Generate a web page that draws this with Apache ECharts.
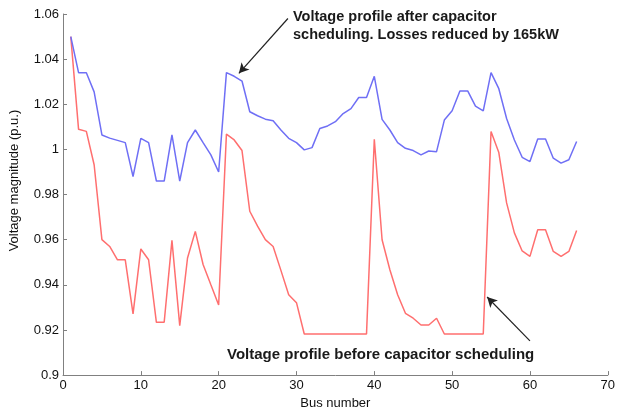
<!DOCTYPE html>
<html>
<head>
<meta charset="utf-8">
<script src="https://cdn.jsdelivr.net/npm/echarts@6/dist/echarts.min.js"></script>
<style>
  html, body { margin: 0; padding: 0; background: #fff; }
  #main { width: 618px; height: 415px; }
</style>
</head>
<body>
<div id="main"></div>
<script>
// bus numbers 1..66
const buses = [];
for (let i = 1; i <= 66; i++) buses.push(i);

// voltage after capacitor scheduling (blue)
const afterV = [
  1.050, 1.034, 1.034, 1.0255, 1.0064, 1.005, 1.004, 1.003, 0.988, 1.0049,
  1.003, 0.986, 0.986, 1.0064, 0.986, 1.003, 1.0086, 1.003, 0.9976, 0.990,
  1.034, 1.0324, 1.0303, 1.0167, 1.0149, 1.0134, 1.0127, 1.0086, 1.0049, 1.003,
  0.9998, 1.0008, 1.0093, 1.0104, 1.0123, 1.0159, 1.0181, 1.023, 1.023, 1.0324,
  1.0133, 1.0086, 1.003, 1.0005, 0.9995, 0.9976, 0.9993, 0.999, 1.013, 1.0171,
  1.0259, 1.0259, 1.0192, 1.0171, 1.034, 1.0269, 1.0137, 1.0042, 0.9965, 0.9946,
  1.0046, 1.0046, 0.9961, 0.9939, 0.9954, 1.0035
];

// voltage before capacitor scheduling (red)
const beforeV = [
  1.050, 1.0089, 1.008, 0.9932, 0.960, 0.957, 0.9511, 0.9511, 0.9271, 0.9559,
  0.9511, 0.9234, 0.9234, 0.9597, 0.9219, 0.9519, 0.9637, 0.949, 0.940, 0.9311,
  1.0068, 1.0042, 0.9995, 0.9726, 0.966, 0.960, 0.957, 0.9464, 0.9356, 0.9321,
  0.9182, 0.9182, 0.9182, 0.9182, 0.9182, 0.9182, 0.9182, 0.9182, 0.9182, 1.0045,
  0.960, 0.9467, 0.9356, 0.9274, 0.9252, 0.9222, 0.9222, 0.9252, 0.9182, 0.9182,
  0.9182, 0.9182, 0.9182, 0.9182, 1.0079, 0.9986, 0.9763, 0.963, 0.955, 0.9526,
  0.9644, 0.9644, 0.9548, 0.9526, 0.9548, 0.9641
];

const yTicks = [0.9, 0.92, 0.94, 0.96, 0.98, 1, 1.02, 1.04, 1.06];

const font = 'Liberation Sans, Arial, sans-serif';
const axisCol = '#808080';

var myChart = echarts.init(document.getElementById('main'));

myChart.setOption({
  animation: false,
  grid: { left: 58, right: 6, top: 14, bottom: 39, containLabel: false },
  xAxis: {
    type: 'value',
    min: 0, max: 70, interval: 10,
    name: 'Bus number',
    nameLocation: 'middle',
    nameGap: 20,
    nameTextStyle: { fontFamily: font, fontSize: 13, color: '#111' },
    axisLine: { show: true, lineStyle: { color: axisCol } },
    axisTick: { show: true, inside: true, length: 4, lineStyle: { color: axisCol } },
    axisLabel: { fontFamily: font, fontSize: 13, color: '#111', margin: 4 },
    splitLine: { show: false }
  },
  yAxis: {
    type: 'value',
    min: 0.9, max: 1.06, interval: 0.02,
    name: 'Voltage magnitude (p.u.)',
    nameLocation: 'middle',
    nameGap: 42,
    nameTextStyle: { fontFamily: font, fontSize: 13, color: '#111', padding: [0, 0, 0, 28] },
    axisLine: { show: true, lineStyle: { color: axisCol } },
    axisTick: { show: true, inside: true, length: 4, lineStyle: { color: axisCol } },
    axisLabel: {
      fontFamily: font, fontSize: 13, color: '#111', margin: 4,
      formatter: function (v) {
        const r = Math.round(v * 100) / 100;
        return yTicks.includes(r) ? String(r) : '';
      }
    },
    splitLine: { show: false }
  },
  series: [
    {
      name: 'after',
      type: 'line',
      data: buses.map((b, i) => [b, afterV[i]]),
      showSymbol: false,
      lineStyle: { color: '#6f6ff5', width: 1.5 },
      itemStyle: { color: '#6f6ff5' },
      z: 3,
      markLine: {
        silent: true,
        symbol: ['none', 'arrow'],
        symbolSize: [8, 10],
        label: { show: false },
        lineStyle: { color: '#222', width: 1.2, type: 'solid' },
        data: [
          [{ coord: [28.9, 1.058] }, { coord: [22.6, 1.0337] }],
          [{ coord: [60.0, 0.9152] }, { coord: [54.5, 0.9346] }]
        ]
      }
    },
    {
      name: 'before',
      type: 'line',
      data: buses.map((b, i) => [b, beforeV[i]]),
      showSymbol: false,
      lineStyle: { color: '#ff6f6f', width: 1.5 },
      itemStyle: { color: '#ff6f6f' },
      z: 2
    }
  ],
  graphic: [
    {
      type: 'text', left: 293, top: 8,
      style: {
        text: 'Voltage profile after capacitor\nscheduling. Losses reduced by 165kW',
        font: 'bold 14.5px ' + font, fill: '#1a1a1a', lineHeight: 18
      }
    },
    {
      type: 'text', left: 227, top: 347,
      style: {
        text: 'Voltage profile before capacitor scheduling',
        font: 'bold 15px ' + font, fill: '#1a1a1a'
      }
    }
  ]
});
</script>
</body>
</html>
